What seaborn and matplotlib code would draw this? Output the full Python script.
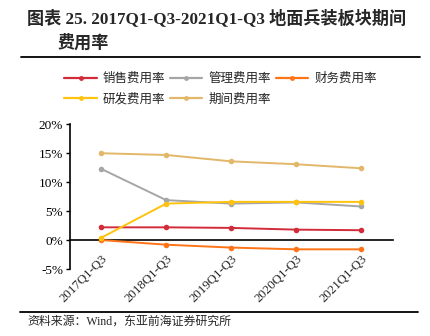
import matplotlib
matplotlib.use("Agg")
import matplotlib.pyplot as plt
import seaborn as sns
import pandas as pd
from matplotlib.lines import Line2D

periods = ["2017Q1-Q3", "2018Q1-Q3", "2019Q1-Q3", "2020Q1-Q3", "2021Q1-Q3"]
sales = [2.2, 2.2, 2.1, 1.8, 1.7]
admin = [12.3, 6.9, 6.3, 6.5, 5.8]
finance = [0.0, -0.8, -1.3, -1.6, -1.6]
rnd = [0.4, 6.3, 6.6, 6.6, 6.6]
period_exp = [15.0, 14.7, 13.6, 13.1, 12.4]

series_names = ["销售费用率", "管理费用率", "财务费用率", "研发费用率", "期间费用率"]
series_vals = [sales, admin, finance, rnd, period_exp]
colors = ["#D22B3A", "#A6A6A6", "#FF7417", "#FFC20E", "#E3B769"]
yticks = [-5, 0, 5, 10, 15, 20]

sns.set_style("white")
FAM = ["Liberation Serif", "Noto Sans CJK SC", "DejaVu Sans"]
plt.rcParams["font.family"] = FAM

rows = []
for name, vals in zip(series_names, series_vals):
    for i, (p, v) in enumerate(zip(periods, vals)):
        rows.append({"period": i, "label": p, "series": name, "value": v})
df = pd.DataFrame(rows)

fig = plt.figure(figsize=(4.30, 3.36), dpi=100)
ax = fig.add_axes([70/430, 1-269/336, (393-70)/430, (269-124.3)/336])

sns.lineplot(data=df, x="period", y="value", hue="series", hue_order=series_names,
             palette=colors, marker="o", markersize=4, markeredgewidth=0,
             linewidth=1.4, ax=ax, legend=False)

for s in ["top", "right"]:
    ax.spines[s].set_visible(False)
ax.spines["bottom"].set_position(("data", 0))
ax.spines["bottom"].set_color("black")
ax.spines["bottom"].set_linewidth(1.2)
ax.spines["bottom"].set_zorder(1)
ax.spines["left"].set_color("black")
ax.spines["left"].set_linewidth(1.2)

ax.set_xlim(-0.48, 4.49)
ax.set_ylim(-5, 20)
ax.set_yticks(yticks)
ax.set_yticklabels([f"{t}%" for t in yticks], fontsize=9.5, family="Liberation Serif")
ax.set_xticks(range(len(periods)))
ax.set_xticklabels(periods, rotation=45, ha="right", rotation_mode="anchor",
                   fontsize=9.3, family="Liberation Serif")
ax.tick_params(axis="x", length=0, pad=9)
ax.tick_params(axis="y", length=3, width=1, direction="out", left=True, pad=2, colors="black")
ax.set_xlabel("")
ax.set_ylabel("")

handles = [Line2D([0], [0], color=c, lw=1.6, marker="o", markersize=3.5, markeredgewidth=0)
           for c in colors]
order = [0, 3, 1, 4, 2]
fig.legend([handles[i] for i in order], [series_names[i] for i in order],
           ncol=3, loc="upper left",
           bbox_to_anchor=(53/430, 1-61/336), frameon=False,
           prop={"family": "Noto Sans CJK SC", "size": 9},
           handlelength=2.6, handletextpad=0.5, columnspacing=0.35, labelspacing=0.6)

fig.text(27/430, 1-18/336, "图表 25. 2017Q1-Q3-2021Q1-Q3 地面兵装板块期间",
         fontsize=12.3, fontweight="bold", va="center", ha="left", family=FAM)
fig.text(58/430, 1-43/336, "费用率", fontsize=12.3, fontweight="bold",
         va="center", ha="left", family=FAM)
fig.add_artist(Line2D([21/430, 420/430], [1-57/336, 1-57/336], color="black", lw=1.3))
fig.add_artist(Line2D([20/430, 418/430], [1-312/336, 1-312/336], color="black", lw=1.3))
fig.text(27/430, 1-322/336, "资料来源：Wind，东亚前海证券研究所", fontsize=8.6,
         va="center", ha="left", family=FAM)

fig.savefig("out.png", dpi=100)
